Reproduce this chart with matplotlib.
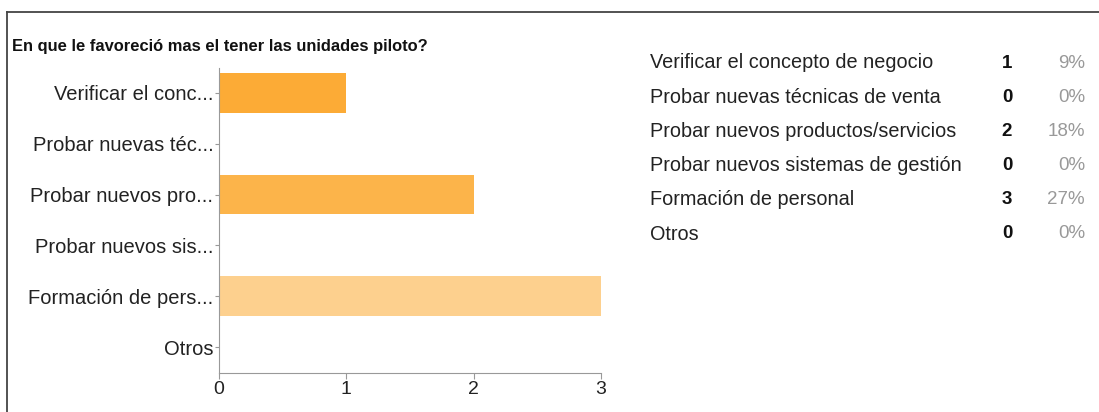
import matplotlib
matplotlib.use("Agg")
import matplotlib.pyplot as plt
from matplotlib.lines import Line2D

plt.rcParams['font.family'] = ['Liberation Sans', 'DejaVu Sans']

# datos de la encuesta
titulo = "En que le favoreció mas el tener las unidades piloto?"
opciones = ["Verificar el concepto de negocio",
            "Probar nuevas técnicas de venta",
            "Probar nuevos productos/servicios",
            "Probar nuevos sistemas de gestión",
            "Formación de personal",
            "Otros"]
etiquetas = ["Verificar el conc...", "Probar nuevas téc...", "Probar nuevos pro...",
             "Probar nuevos sis...", "Formación de pers...", "Otros"]
conteos = [1, 0, 2, 0, 3, 0]
porcentajes = ["9%", "0%", "18%", "0%", "27%", "0%"]
colores = ["#fcab36", "#fcb44a", "#fcb44a", "#fcb44a", "#fdd08e", "#fcb44a"]

W, H = 1099, 412
fig = plt.figure(figsize=(W / 100, H / 100), dpi=100)

def fx(px): return px / W
def fy(py): return 1 - py / H

# marco (arriba e izquierda)
fig.add_artist(Line2D([fx(7), 1], [fy(12), fy(12)], color="#444444", lw=1.3))
fig.add_artist(Line2D([fx(7), fx(7)], [fy(12), 0], color="#444444", lw=1.3))

fig.text(fx(12), fy(47), titulo, fontsize=11.9, fontweight="bold", color="#111111", va="center")

# eje del gráfico de barras
ax = fig.add_axes([fx(219), fy(372.5), fx(601) - fx(219), (372.5 - 67.5) / H])
pos = list(range(len(conteos)))
ax.barh(pos, conteos, height=0.78, color=colores)
ax.set_ylim(len(conteos) - 0.5, -0.5)
ax.set_xlim(0, 3)
ax.set_xticks([0, 1, 2, 3])
ax.set_yticks(pos)
ax.set_yticklabels(etiquetas, fontsize=14.5, color="#222222")
ax.tick_params(axis="x", labelsize=14, colors="#999999", labelcolor="#222222", length=4, pad=2)
ax.tick_params(axis="y", colors="#999999", labelcolor="#222222", length=3, pad=1)
for s in ["top", "right"]:
    ax.spines[s].set_visible(False)
for s in ["left", "bottom"]:
    ax.spines[s].set_color("#999999")
    ax.spines[s].set_linewidth(0.8)

# tabla de resultados
y0, paso = 63, 34.2
for i, (op, n, p) in enumerate(zip(opciones, conteos, porcentajes)):
    y = fy(y0 + i * paso)
    fig.text(fx(650), y, op, fontsize=14.3, color="#222222", va="center")
    fig.text(fx(1007), y, str(n), fontsize=13.5, fontweight="bold", color="#111111", va="center", ha="center")
    fig.text(fx(1085), y, p, fontsize=13.5, color="#999999", va="center", ha="right")

fig.savefig("out.png", dpi=100)
